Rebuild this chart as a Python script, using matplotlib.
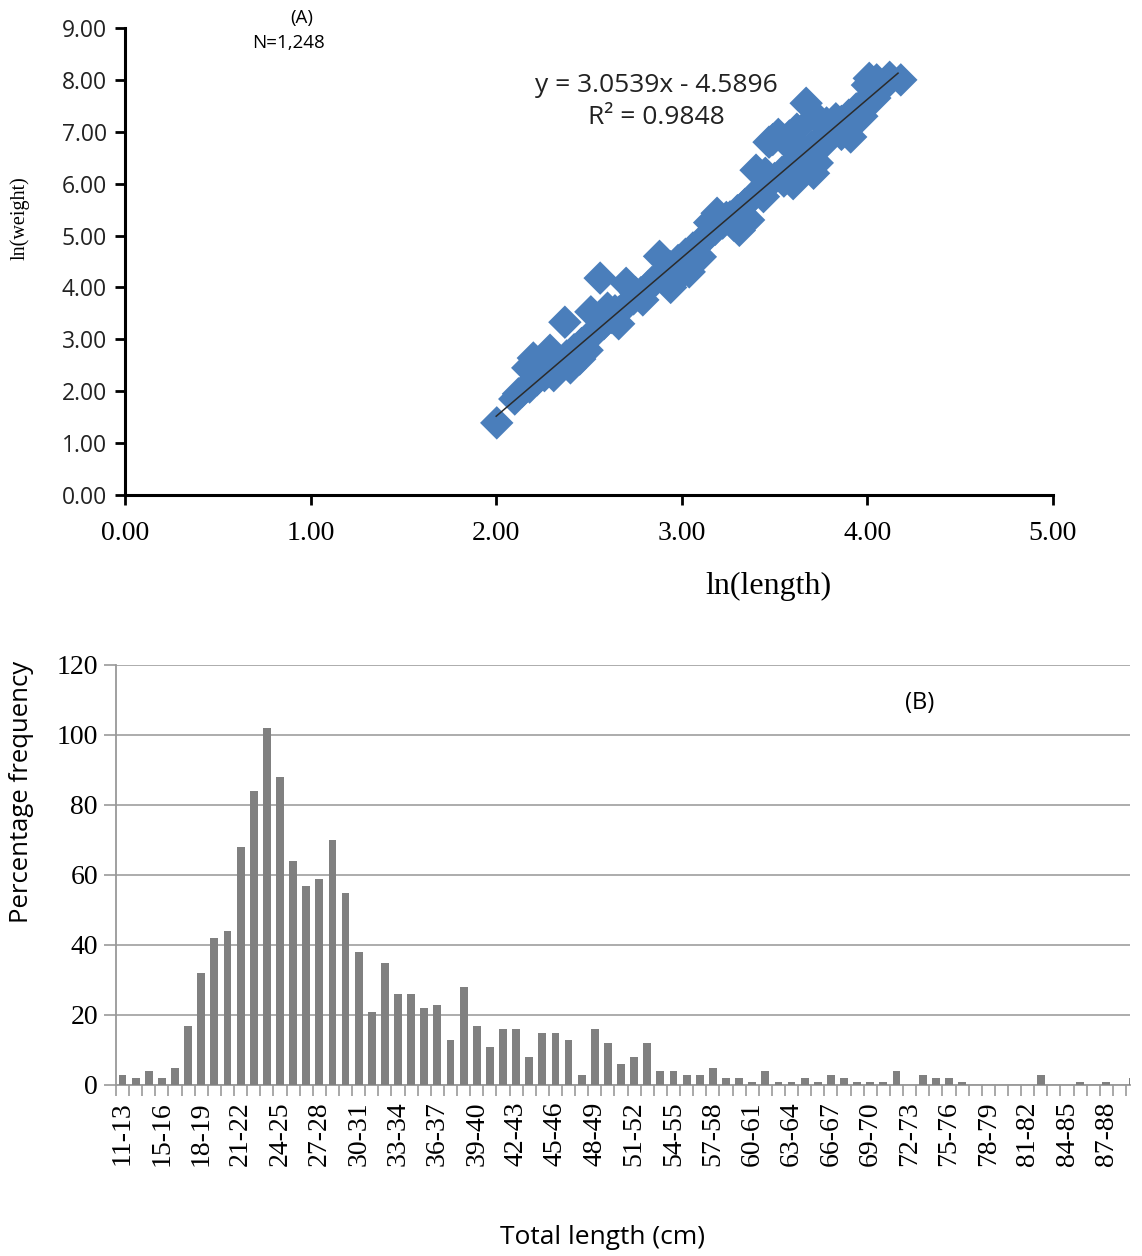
import numpy as np
import matplotlib
matplotlib.use("Agg")
import matplotlib.pyplot as plt

# ---------------- data: panel A (ln length vs ln weight) ----------------
ln_length = [2.003, 2.10, 2.14, 2.18, 2.22, 2.26, 2.30, 2.34, 2.38, 2.42, 2.46,
             2.50, 2.54, 2.58, 2.62, 2.66, 2.70, 2.74, 2.78, 2.82, 2.86, 2.90,
             2.94, 2.98, 3.02, 3.06, 3.10, 3.14, 3.18, 3.22, 3.26, 3.30, 3.34,
             3.38, 3.42, 3.46, 3.50, 3.54, 3.58, 3.62, 3.66, 3.70, 3.74, 3.78,
             3.82, 3.86, 3.90, 3.94, 3.98, 4.02, 4.06, 4.10,
             2.20, 2.17, 2.24, 2.29, 2.31, 2.40, 2.45, 2.37, 2.56, 2.51, 2.49,
             2.60, 2.70, 2.66, 2.79, 2.88, 2.94, 3.04, 2.98, 3.10, 3.19, 3.15,
             3.31, 3.36, 3.28, 3.33, 3.40, 3.45, 3.47, 3.52, 3.58, 3.62, 3.67,
             3.72, 3.78, 3.83, 3.60, 3.66, 3.71, 3.73, 3.91, 3.86, 3.97, 4.01,
             4.05, 4.12, 4.18, 4.08, 4.00, 3.49, 3.55,
             2.12, 2.23, 2.33, 2.44, 2.55, 2.64, 2.75, 2.84, 3.00, 3.12, 3.24,
             3.44, 3.55, 3.76, 3.88, 4.04]
ln_weight = [1.39, 1.85, 2.00, 2.08, 2.22, 2.30, 2.45, 2.55, 2.68, 2.80, 2.92,
             3.05, 3.18, 3.30, 3.42, 3.52, 3.66, 3.78, 3.90, 4.02, 4.14, 4.26,
             4.40, 4.52, 4.64, 4.76, 4.86, 4.99, 5.12, 5.24, 5.36, 5.48, 5.60,
             5.74, 5.86, 5.98, 6.10, 6.22, 6.34, 6.46, 6.58, 6.70, 6.84, 6.96,
             7.08, 7.20, 7.32, 7.44, 7.56, 7.68, 7.80, 7.92,
             2.64, 2.45, 2.55, 2.79, 2.30, 2.45, 2.62, 3.33, 4.18, 3.53, 2.79,
             3.60, 4.08, 3.30, 3.76, 4.60, 4.00, 4.30, 4.20, 4.59, 5.43, 5.25,
             5.10, 5.30, 5.20, 5.24, 6.26, 6.20, 6.80, 6.95, 6.92, 7.05, 7.55,
             7.30, 7.17, 7.25, 6.00, 6.25, 6.20, 6.40, 6.90, 6.95, 7.30, 8.03,
             8.00, 8.05, 8.00, 7.85, 7.90, 6.85, 6.84,
             1.95, 2.40, 2.62, 2.75, 3.20, 3.55, 3.90, 4.10, 4.45, 4.95, 5.35,
             5.75, 6.05, 6.75, 7.10, 7.65]
trend_slope = 3.0539
trend_intercept = -4.5896
trend_x_range = [2.0, 4.165]
x_ticks_a = [0.0, 1.0, 2.0, 3.0, 4.0, 5.0]
y_ticks_a = [0.0, 1.0, 2.0, 3.0, 4.0, 5.0, 6.0, 7.0, 8.0, 9.0]

# ---------------- data: panel B (length frequency) ----------------
length_classes = ["11-13"] + [f"{a}-{a + 1}" for a in range(13, 90)]
frequency = [3, 2, 4, 2, 5, 17, 32, 42, 44, 68, 84, 102, 88, 64, 57, 59, 70, 55,
             38, 21, 35, 26, 26, 22, 23, 13, 28, 17, 11, 16, 16, 8, 15, 15, 13,
             3, 16, 12, 6, 8, 12, 4, 4, 3, 3, 5, 2, 2, 1, 4, 1, 1, 2, 1, 3, 2,
             1, 1, 1, 4, 0, 3, 2, 2, 1, 0, 0, 0, 0, 0, 3, 0, 0, 1, 0, 1, 0, 2]
y_ticks_b = [0, 20, 40, 60, 80, 100, 120]

W, H = 1142, 1256
fig = plt.figure(figsize=(W / 100, H / 100), dpi=100)
fig.patch.set_facecolor("white")

SERIF = ["Liberation Serif", "DejaVu Serif"]
SANS = ["Open Sans", "DejaVu Sans"]

def frac(x0, y0, x1, y1):
    return [x0 / W, 1 - y1 / H, (x1 - x0) / W, (y1 - y0) / H]

# ---------------- panel A ----------------
axA = fig.add_axes(frac(125, 28, 1053, 495))
axA.scatter(ln_length, ln_weight, marker="D", s=290, color="#4a7ebb",
            edgecolors="none", zorder=2)
tx = np.array(trend_x_range)
axA.plot(tx, trend_slope * tx + trend_intercept, color="#2b2b2b", lw=1.1, zorder=3)
axA.set_xlim(0, 5)
axA.set_ylim(0, 9)
axA.set_xticks(x_ticks_a)
axA.set_yticks(y_ticks_a)
axA.set_xticklabels([f"{v:.2f}" for v in x_ticks_a], fontsize=20, family=SERIF)
axA.set_yticklabels([f"{v:.2f}" for v in y_ticks_a], fontsize=16.5, family=SANS,
                    color="#222222")
for s in ["top", "right"]:
    axA.spines[s].set_visible(False)
for s in ["left", "bottom"]:
    axA.spines[s].set_linewidth(2.2)
    axA.spines[s].set_color("black")
axA.tick_params(axis="both", direction="out", length=7, width=2, color="black")
axA.tick_params(axis="x", pad=12)
axA.tick_params(axis="y", pad=6)
axA.patch.set_alpha(0)

fig.text(768 / W, 1 - 586 / H, "ln(length)", ha="center", va="center",
         fontsize=23, family=SERIF)
fig.text(20 / W, 1 - 218 / H, "ln(weight)", ha="center", va="center",
         fontsize=14.5, family=SERIF, rotation=90)
fig.text(302 / W, 1 - 18 / H, "(A)", ha="center", va="center", fontsize=13.5,
         family=SANS)
fig.text(288 / W, 1 - 43 / H, "N=1,248", ha="center", va="center", fontsize=13.5,
         family=SANS)
fig.text(656 / W, 1 - 86 / H, "y = 3.0539x - 4.5896", ha="center", va="center",
         fontsize=19, family=SANS, color="#222222")
fig.text(656 / W, 1 - 117 / H, "R² = 0.9848", ha="center", va="center",
         fontsize=19, family=SANS, color="#222222")

# ---------------- panel B ----------------
axB = fig.add_axes(frac(116, 665, 1130, 1085))
xpos = np.arange(len(frequency))
axB.bar(xpos, frequency, width=0.6, color="#808080", zorder=3)
axB.set_xlim(-0.5, 76.8)
axB.set_ylim(0, 120)
axB.set_yticks(y_ticks_b)
axB.set_yticklabels([str(v) for v in y_ticks_b], fontsize=20, family=SERIF)
axB.yaxis.grid(True, color="#a6a6a6", lw=1.3, zorder=0)
axB.set_axisbelow(True)
lab_idx = list(range(0, 76, 3))
axB.set_xticks(lab_idx)
axB.set_xticklabels([length_classes[i] for i in lab_idx], rotation=90,
                    fontsize=20, family=SERIF)
axB.set_xticks(np.arange(-0.5, 77, 1), minor=True)
axB.tick_params(axis="x", which="major", length=0, pad=12)
axB.tick_params(axis="x", which="minor", length=8, width=1.2, color="#999999",
                direction="out")
axB.tick_params(axis="y", length=9, width=1.2, color="#999999", direction="out",
                pad=4)
for s in ["top", "right"]:
    axB.spines[s].set_visible(False)
for s in ["left", "bottom"]:
    axB.spines[s].set_color("#999999")
    axB.spines[s].set_linewidth(1.3)

fig.text(22 / W, 1 - 792 / H, "Percentage frequency", ha="center", va="center",
         fontsize=18.5, family=SANS, rotation=90)
fig.text(602 / W, 1 - 1238 / H, "Total length (cm)", ha="center", va="center",
         fontsize=19, family=SANS)
fig.text(920 / W, 1 - 703 / H, "(B)", ha="center", va="center", fontsize=17,
         family=SANS)

fig.savefig("out.png", dpi=100, facecolor="white")
